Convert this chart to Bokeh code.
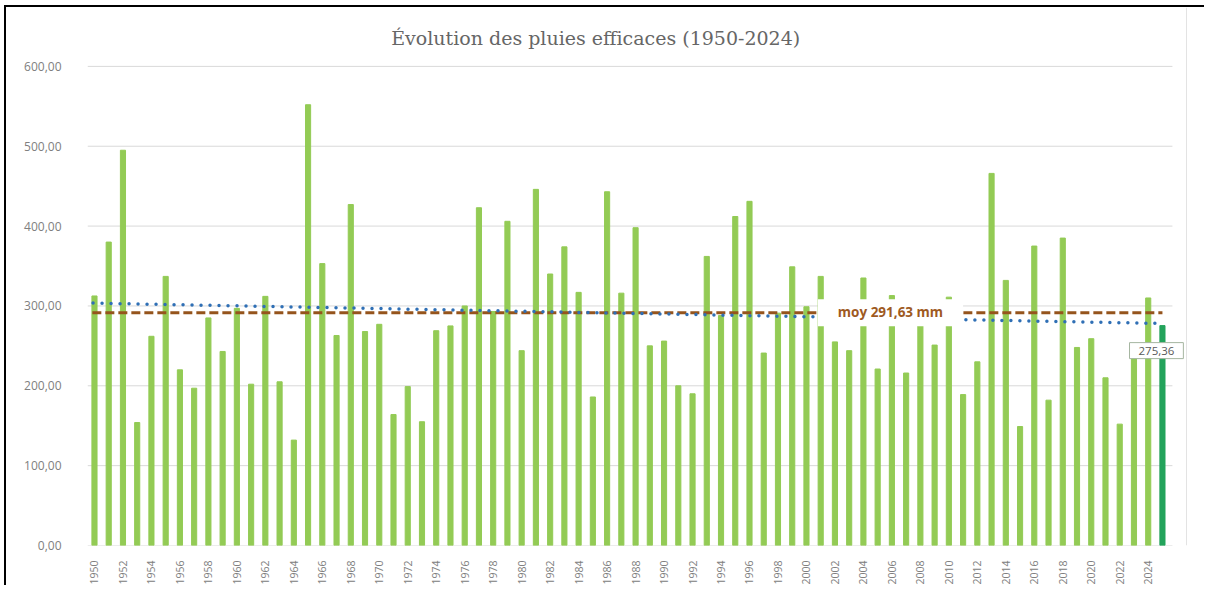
import math
from bokeh.plotting import figure
from bokeh.models import Range1d, FixedTicker, Label, ColumnDataSource, Span
from bokeh.embed import file_html
from bokeh.resources import INLINE

# ---------------- data ----------------
years = list(range(1950, 2026))
rain = [312.5, 380, 495, 154, 262, 337, 220, 197, 285, 243,
        297, 202, 312, 205, 132, 552, 353, 263, 427, 268,
        277, 164, 199, 155, 269, 275, 300, 423, 293, 406,
        244, 446, 340, 374, 317, 186, 443, 316, 398, 250,
        256, 200, 190, 362, 288, 412, 431, 241, 291, 349,
        299, 337, 255, 244, 335, 221, 313, 216, 275, 251,
        311, 189, 230, 466, 332, 149, 375, 182, 385, 248,
        259, 210, 152, 240, 310, 275.36]
highlight_year = 2025
mean_value = 291.63
mean_text = "moy 291,63 mm"
last_text = "275,36"
trend_start_value = 303.5   # trend line at 1950
trend_end_value = 278.0     # trend line at 2025
title_text = "Évolution des pluies efficaces (1950-2024)"

y_ticks = [0, 100, 200, 300, 400, 500, 600]
y_tick_labels = ["0,00", "100,00", "200,00", "300,00", "400,00", "500,00", "600,00"]
x_tick_years = list(range(1950, 2025, 2))
x_tick_labels = [str(y) for y in x_tick_years]

# ---------------- styles ----------------
BAR = "#93cb55"
BAR_HI = "#23a35b"
MEAN_C = "#95541c"
TREND_C = "#2f6fb5"
GRID = "#d9d9d9"
TXT = "#808080"

colors = [BAR_HI if y == highlight_year else BAR for y in years]
src = ColumnDataSource(dict(year=years, rain=rain, color=colors))

plot_x_lo, plot_x_hi = 1949.51, 2025.7   # extent of the plot area (gridlines)

p = figure(width=1200, height=580,
           x_range=Range1d(plot_x_lo, 2026.97), y_range=Range1d(0, 673.75),
           output_backend="svg", toolbar_location=None,
           min_border_left=81, min_border_right=16,
           min_border_top=0, min_border_bottom=41)
p.styles = {"margin-left": "4px", "margin-top": "5px", "overflow": "hidden",
            "border-left": "2px solid #000", "border-top": "2px solid #000"}
p.outline_line_color = None
p.background_fill_color = "white"
p.border_fill_color = "white"

p.xgrid.visible = False
p.ygrid.visible = False
p.segment(x0=plot_x_lo, x1=plot_x_hi, y0=y_ticks, y1=y_ticks, line_color=GRID, line_width=1)
p.add_layout(Span(location=2026.69, dimension="height", line_color="#e3e3e3", line_width=1))

p.yaxis.ticker = FixedTicker(ticks=y_ticks)
p.yaxis.major_label_overrides = dict(zip(y_ticks, y_tick_labels))
p.yaxis.axis_line_color = None
p.yaxis.major_tick_line_color = None
p.yaxis.minor_tick_line_color = None
p.yaxis.major_label_standoff = 20
p.yaxis.major_label_text_font = "Open Sans"
p.yaxis.major_label_text_font_size = "12px"
p.yaxis.major_label_text_color = TXT

p.xaxis.ticker = FixedTicker(ticks=x_tick_years)
p.xaxis.major_label_overrides = dict(zip(x_tick_years, x_tick_labels))
p.xaxis.major_label_orientation = math.pi / 2
p.xaxis.axis_line_color = None
p.xaxis.major_tick_line_color = None
p.xaxis.minor_tick_line_color = None
p.xaxis.major_label_standoff = 9
p.xaxis.major_label_text_font = "Open Sans"
p.xaxis.major_label_text_font_size = "10.5px"
p.xaxis.major_label_text_color = TXT

p.vbar(x="year", top="rain", width=0.36, color="color", source=src)

x0, x1 = years[0] - 0.15, years[-1]
p.line([x0, x1], [mean_value, mean_value], line_color=MEAN_C, line_width=3, line_dash="9 4")
slope = (trend_end_value - trend_start_value) / (years[-1] - years[0])
tx0, tx1 = years[0] - 0.1, years[-1] - 0.5
p.line([tx0, tx1],
       [trend_start_value + slope * (tx0 - years[0]), trend_start_value + slope * (tx1 - years[0])],
       line_color=TREND_C, line_width=3.5, line_dash="0 9", line_cap="round")

p.add_layout(Label(x=2005.9, y=mean_value, text=mean_text, text_align="center", text_baseline="middle",
                   text_font="Open Sans", text_font_style="bold", text_font_size="13.5px",
                   text_color="#9e5a1f", background_fill_color="white",
                   padding=dict(left=20, right=20, top=4, bottom=5)))

p.add_layout(Label(x=years[-1], y=rain[-1], x_offset=-6, y_offset=-25, text=last_text,
                   text_align="center", text_baseline="middle",
                   text_font="Open Sans", text_font_size="11.5px", text_color="#595959",
                   background_fill_color="white", border_line_color="#a5b5a0",
                   padding=dict(left=9, right=9, top=4, bottom=4)))

p.add_layout(Label(x=1985.2, y=635, text=title_text, text_align="center", text_baseline="middle",
                   text_font="DejaVu Serif", text_font_size="19px", text_color="#666666"))

open("out.html", "w").write(file_html(p, INLINE))
